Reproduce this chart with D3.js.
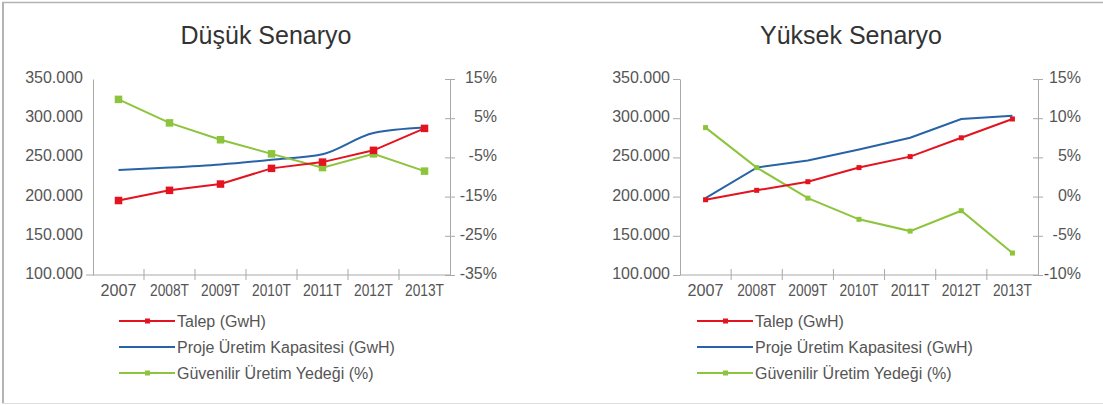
<!DOCTYPE html>
<html>
<head>
<meta charset="utf-8">
<script src="https://cdn.jsdelivr.net/npm/d3@7/dist/d3.min.js"></script>
<style>
  html, body { margin: 0; padding: 0; background: #fff; }
  svg { display: block; font-family: "Liberation Sans", Arial, sans-serif; }
</style>
</head>
<body>
<svg id="chart" width="1103" height="405"></svg>
<script>
// ---------- data ----------
const categories = ["2007", "2008T", "2009T", "2010T", "2011T", "2012T", "2013T"];

const lowTalep     = [195000, 208000, 216000, 236000, 244000, 259000, 287000];
const lowKapasite  = [234000, 237000, 241000, 247000, 254000, 281000, 288000];
const lowYedek     = [9.8, 3.8, -0.5, -4.1, -7.6, -4.1, -8.5];

const highTalep    = [196000, 208000, 219000, 237000, 251000, 275000, 299000];
const highKapasite = [198000, 237000, 246000, 260000, 275000, 299000, 303000];
const highYedek    = [8.8, 3.7, -0.2, -2.9, -4.4, -1.8, -7.2];

const gwhTicks     = [100000, 150000, 200000, 250000, 300000, 350000];
const lowPctTicks  = [15, 5, -5, -15, -25, -35];
const highPctTicks = [15, 10, 5, 0, -5, -10];

const seriesNames = ["Talep (GwH)", "Proje Üretim Kapasitesi (GwH)", "Güvenilir Üretim Yedeği (%)"];
const seriesColors = ["#e3131f", "#2763a6", "#8cc43c"];

// ---------- setup ----------
const svg = d3.select("#chart");
const trLocale = d3.formatLocale({ decimal: ",", thousands: ".", grouping: [3], currency: ["", " TL"] });
const fmtGwh = trLocale.format(",");
const fmtPct = d => (d < 0 ? "-" + Math.abs(d) : d) + "%";
const AXIS = "#a9a9a9", TEXT = "#555";

// frame
svg.append("line").attr("x1", 3).attr("y1", 2).attr("x2", 3).attr("y2", 404)
  .attr("stroke", "#b3b3b3").attr("stroke-width", 2);
svg.append("line").attr("x1", 2).attr("y1", 2.5).attr("x2", 1103).attr("y2", 2.5)
  .attr("stroke", "#b3b3b3").attr("stroke-width", 1.5);
svg.append("line").attr("x1", 2).attr("y1", 403.5).attr("x2", 1103).attr("y2", 403.5)
  .attr("stroke", "#dedede").attr("stroke-width", 1);

function drawChart(cfg) {
  const g = svg.append("g");
  const x = d3.scaleBand().domain(categories).range([cfg.x0, cfg.x1]);
  const y = d3.scaleLinear().domain([100000, 350000]).range([275, 79]);
  const y2 = d3.scaleLinear().domain(cfg.pctDomain).range([275, 79]);
  const cx = c => x(c) + x.bandwidth() / 2;

  // title
  g.append("text").attr("x", cfg.titleX).attr("y", 44)
    .attr("text-anchor", "middle").attr("font-size", 25).attr("fill", "#333")
    .text(cfg.title);

  // left axis
  const la = g.append("g").attr("transform", `translate(${cfg.x0},0)`)
    .call(d3.axisLeft(y).tickValues(gwhTicks).tickFormat(fmtGwh)
      .tickSize(cfg.leftTickSize).tickSizeOuter(0).tickPadding(cfg.leftPad));
  la.select(".domain").attr("stroke", AXIS);
  la.selectAll(".tick line").attr("stroke", AXIS);
  la.selectAll(".tick text").attr("fill", TEXT).attr("font-size", 16)
    .attr("font-family", "Liberation Sans, Arial, sans-serif").attr("dy", "0.22em");

  // right axis
  const ra = g.append("g").attr("transform", `translate(${cfg.x1},0)`)
    .call(d3.axisRight(y2).tickValues(cfg.pctTicks).tickFormat(fmtPct)
      .tickSize(0).tickSizeOuter(0).tickPadding(0));
  ra.select(".domain").attr("stroke", AXIS);
  ra.selectAll(".tick").append("line").attr("x1", -5).attr("x2", 5).attr("stroke", AXIS);
  ra.selectAll(".tick text").attr("fill", TEXT).attr("font-size", 16)
    .attr("font-family", "Liberation Sans, Arial, sans-serif")
    .attr("text-anchor", "end").attr("x", cfg.rightLabelEnd).attr("dy", "0.22em");

  // x axis
  g.append("line").attr("x1", cfg.xAxisStart).attr("x2", cfg.x1)
    .attr("y1", 275).attr("y2", 275).attr("stroke", AXIS);
  const bounds = categories.slice(1).map(c => x(c));
  g.selectAll(".xtick").data(bounds).join("line")
    .attr("x1", d => d).attr("x2", d => d).attr("y1", 269).attr("y2", 280)
    .attr("stroke", AXIS);
  g.selectAll(".xlab").data(categories).join("text")
    .attr("x", d => cx(d)).attr("y", 296).attr("text-anchor", "middle")
    .attr("font-size", 16).attr("fill", TEXT)
    .attr("textLength", d => d.length > 4 ? 39 : 36)
    .attr("lengthAdjust", "spacingAndGlyphs")
    .text(d => d);

  // lines
  const lineL = d3.line().x((d, i) => cx(categories[i])).y(d => y(d)).curve(cfg.curveKap);
  const lineR = d3.line().x((d, i) => cx(categories[i])).y(d => y(d)).curve(d3.curveLinear);
  const lineP = d3.line().x((d, i) => cx(categories[i])).y(d => y2(d)).curve(d3.curveLinear);

  g.append("path").datum(cfg.kapasite).attr("d", lineL).attr("fill", "none")
    .attr("stroke", seriesColors[1]).attr("stroke-width", 2);
  g.append("path").datum(cfg.yedek).attr("d", lineP).attr("fill", "none")
    .attr("stroke", seriesColors[2]).attr("stroke-width", 2);
  g.append("path").datum(cfg.talep).attr("d", lineR).attr("fill", "none")
    .attr("stroke", seriesColors[0]).attr("stroke-width", 2);

  const ms = cfg.markerSize;
  g.selectAll(".mg").data(cfg.yedek).join("rect")
    .attr("x", (d, i) => cx(categories[i]) - ms / 2).attr("y", d => y2(d) - ms / 2)
    .attr("width", ms).attr("height", ms).attr("fill", seriesColors[2]);
  g.selectAll(".mr").data(cfg.talep).join("rect")
    .attr("x", (d, i) => cx(categories[i]) - ms / 2).attr("y", d => y(d) - ms / 2)
    .attr("width", ms).attr("height", ms).attr("fill", seriesColors[0]);

  // legend
  const legY = [321, 347, 373];
  seriesNames.forEach((name, i) => {
    const lg = g.append("g");
    lg.append("line").attr("x1", cfg.legX).attr("x2", cfg.legX + 56)
      .attr("y1", legY[i]).attr("y2", legY[i])
      .attr("stroke", seriesColors[i]).attr("stroke-width", 2);
    if (i !== 1) {
      lg.append("rect").attr("x", cfg.legX + 26).attr("y", legY[i] - 2.5)
        .attr("width", 5).attr("height", 5).attr("fill", seriesColors[i]);
    }
    lg.append("text").attr("x", cfg.legX + 58).attr("y", legY[i]).attr("dy", "0.35em")
      .attr("font-size", 16).attr("fill", TEXT).text(name);
  });
}

drawChart({
  title: "Düşük Senaryo", titleX: 266,
  x0: 93, x1: 450, xAxisStart: 86,
  pctDomain: [-35, 15], pctTicks: lowPctTicks,
  leftTickSize: 0, leftPad: 10, rightLabelEnd: 47,
  talep: lowTalep, kapasite: lowKapasite, yedek: lowYedek,
  curveKap: d3.curveMonotoneX,
  markerSize: 7.5, legX: 119
});

drawChart({
  title: "Yüksek Senaryo", titleX: 851,
  x0: 680, x1: 1038, xAxisStart: 680,
  pctDomain: [-10, 15], pctTicks: highPctTicks,
  leftTickSize: 7, leftPad: 3, rightLabelEnd: 43,
  talep: highTalep, kapasite: highKapasite, yedek: highYedek,
  curveKap: d3.curveLinear,
  markerSize: 5, legX: 697
});
</script>
</body>
</html>
